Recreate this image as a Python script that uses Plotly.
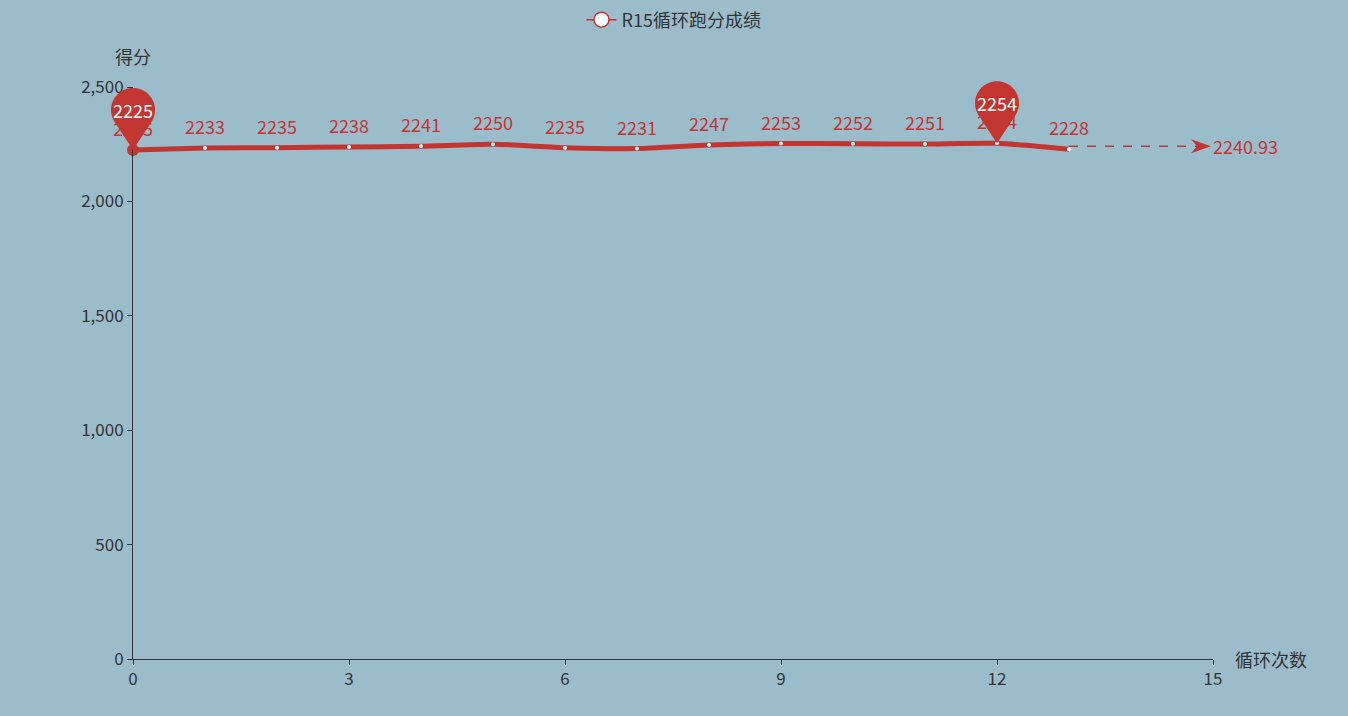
import numpy as np
import plotly.graph_objects as go

x_vals = list(range(14))
scores = [2225, 2233, 2235, 2238, 2241, 2250, 2235, 2231, 2247, 2253, 2252, 2251, 2254, 2228]
series_name = "R15循环跑分成绩"
y_ticks = [0, 500, 1000, 1500, 2000, 2500]
x_ticks = [0, 3, 6, 9, 12, 15]

X_MAX = 15
Y_MAX = 2500

RED = "#c23531"
BG = "#9bbdcb"
AXIS = "#333333"
FONT = "Noto Sans CJK SC, Microsoft YaHei, sans-serif"

avg = float(np.mean(scores))
i_max = int(np.argmax(scores))
i_min = int(np.argmin(scores))

fig = go.Figure()

# main line
fig.add_trace(go.Scatter(
    x=x_vals, y=scores, mode="lines+markers",
    line=dict(color=RED, width=5, shape="spline", smoothing=0.6),
    marker=dict(color="white", size=4, symbol="circle"),
    showlegend=False, cliponaxis=False, hoverinfo="skip",
))

# legend-only trace
fig.add_trace(go.Scatter(
    x=[None], y=[None], mode="lines+markers", name=series_name,
    line=dict(color=RED, width=1.5),
    marker=dict(color="white", size=15, line=dict(color=RED, width=1.5)),
))

# average mark line
fig.add_trace(go.Scatter(
    x=[x_vals[-1], X_MAX], y=[avg, avg], mode="lines",
    line=dict(color=RED, width=1.5, dash="dash"),
    showlegend=False, hoverinfo="skip", cliponaxis=False,
))

shapes = []
# arrow head at end of average line
shapes.append(dict(
    type="path", xref="paper", yref="paper", xsizemode="pixel", ysizemode="pixel",
    xanchor=1.0, yanchor=avg / Y_MAX,
    path="M -2 0 L -22 7 L -16 0 L -22 -7 Z",
    fillcolor=RED, line=dict(width=0),
))

# pins for min and max
def pin_path(r=22, h=40, n=72):
    a = np.arcsin(r / h)
    t0 = -np.pi / 2 + (np.pi / 2 - a)
    t1 = -np.pi / 2 - (np.pi / 2 - a) + 2 * np.pi
    ang = np.linspace(t0, t1, n)
    pts = ["M 0 0"]
    for t in ang:
        pts.append(f"L {r*np.cos(t):.2f} {h + r*np.sin(t):.2f}")
    pts.append("Z")
    return " ".join(pts)

pp = pin_path()
for idx in (i_min, i_max):
    shapes.append(dict(
        type="path", xref="paper", yref="paper", xsizemode="pixel", ysizemode="pixel",
        xanchor=x_vals[idx] / X_MAX, yanchor=scores[idx] / Y_MAX, path=pp,
        fillcolor=RED, line=dict(width=0), layer="above",
    ))

# red dot at first point
fig.add_trace(go.Scatter(
    x=[x_vals[0]], y=[scores[0]], mode="markers",
    marker=dict(color=RED, size=12), showlegend=False, hoverinfo="skip",
    cliponaxis=False,
))

annotations = []
for xv, v in zip(x_vals, scores):
    annotations.append(dict(
        x=xv, y=v, xref="x", yref="y", text=str(v), showarrow=False,
        yshift=22, font=dict(color=RED, size=18, family=FONT),
    ))
for idx in (i_min, i_max):
    annotations.append(dict(
        x=x_vals[idx], y=scores[idx], xref="x", yref="y", text=str(scores[idx]),
        showarrow=False, yshift=40, font=dict(color="white", size=18, family=FONT),
    ))
annotations.append(dict(
    x=X_MAX, y=avg, xref="x", yref="y", text=f"{avg:.2f}", showarrow=False,
    xanchor="left", xshift=-2, font=dict(color=RED, size=18, family=FONT),
))
annotations.append(dict(
    x=0, y=1, xref="x", yref="paper", text="得分", showarrow=False,
    yanchor="bottom", yshift=16, font=dict(color=AXIS, size=18, family=FONT),
))
annotations.append(dict(
    x=X_MAX, y=0, xref="x", yref="y", text="循环次数", showarrow=False,
    xanchor="left", xshift=20, font=dict(color=AXIS, size=18, family=FONT),
))

fig.update_layout(
    width=1348, height=716,
    paper_bgcolor=BG, plot_bgcolor=BG,
    margin=dict(l=133, r=135, t=87, b=57),
    font=dict(family=FONT, color=AXIS, size=16),
    shapes=shapes, annotations=annotations,
    legend=dict(orientation="h", x=0.5, xanchor="center", xref="container",
                y=0.998, yanchor="top", yref="container",
                font=dict(size=18, color=AXIS, family=FONT),
                bgcolor="rgba(0,0,0,0)"),
    xaxis=dict(range=[0, X_MAX], tickvals=x_ticks, showgrid=False, zeroline=False,
               showline=True, linecolor=AXIS, linewidth=1, ticks="outside",
               ticklen=5, tickcolor=AXIS, tickfont=dict(size=17, color=AXIS)),
    yaxis=dict(range=[0, Y_MAX], tickvals=y_ticks, tickformat=",d", showgrid=False,
               zeroline=False, showline=True, linecolor=AXIS, linewidth=1,
               ticks="outside", ticklen=5, tickcolor=AXIS,
               tickfont=dict(size=17, color=AXIS)),
    hovermode=False,
)

fig.write_html(
    "out.html",
    config={"displayModeBar": False},
    post_script="document.body.style.margin='0';document.body.style.overflow='hidden';",
)
